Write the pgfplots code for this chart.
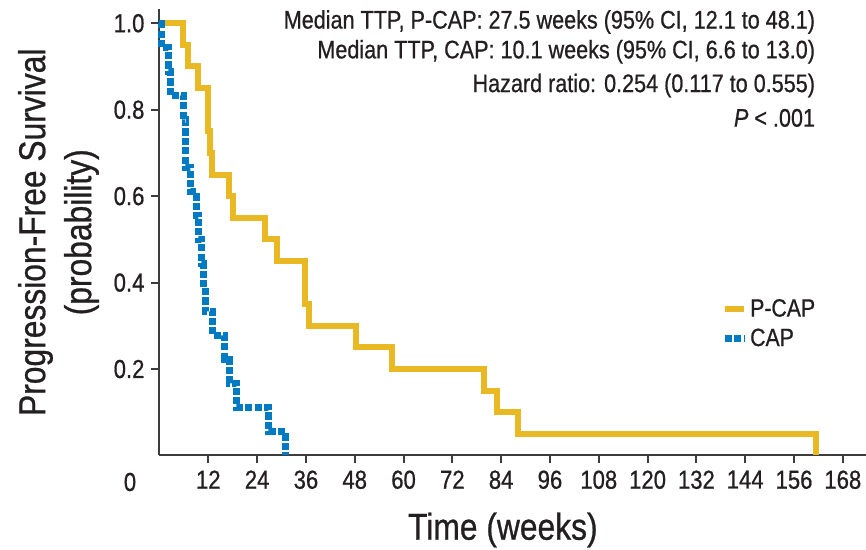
\documentclass[border=0pt]{standalone}
\usepackage{fontspec}
\setmainfont{Liberation Sans}[FakeStretch=0.85, FakeBold=0.7]
\setsansfont{Liberation Sans}[FakeStretch=0.85, FakeBold=0.7]
\usepackage{pgfplots}
\pgfplotsset{compat=1.18}
\usetikzlibrary{calc}

\definecolor{pcapgold}{RGB}{232,185,35}
\definecolor{capblue}{RGB}{0,122,195}
\definecolor{axisgray}{RGB}{60,60,60}
\definecolor{txt}{RGB}{35,31,32}

\begin{document}
\begin{tikzpicture}
\begin{axis}[
    name=ax,
    scale only axis,
    width=353.25pt, height=223.25pt,
    xmin=0, xmax=173.7, ymin=0, ymax=1.033,
    axis lines*=left,
    axis line style={axisgray, line width=1pt},
    tick align=outside,
    major tick length=4pt,
    tick style={axisgray, line width=1pt},
    xtick={12,24,36,48,60,72,84,96,108,120,132,144,156,168},
    xticklabels={12,24,36,48,60,72,84,96,108,120,132,144,156,168},
    ytick={0.2,0.4,0.6,0.8,1.0},
    yticklabels={0.2,0.4,0.6,0.8,1.0},
    tick label style={font=\fontsize{13}{15}\selectfont, text=txt},
    xlabel={Time (weeks)},
    ylabel={Progression-Free Survival\\(probability)},
    xlabel style={at={(rel axis cs:0.486,-0.1669)}, anchor=center,
                  font=\fontsize{18.7}{22.5}\selectfont, text=txt},
    ylabel style={at={(rel axis cs:-0.143,0.5)}, anchor=center, align=center,
                  font=\fontsize{18.7}{23}\selectfont, text=txt},
    clip=false,
    legend style={draw=none, fill=none, at={(axis cs:138.0,0.304)}, anchor=west,
                  inner sep=0pt, row sep=1.5pt, font=\fontsize{12.5}{14.5}\selectfont,
                  text=txt, nodes={inner sep=1.5pt}},
    legend cell align=left,
    legend image code/.code={\draw[#1] (0pt,0pt) -- (9.5pt,0pt);},
]
% P-CAP
\addplot[const plot, pcapgold, line width=3pt, line join=miter] coordinates {
    (0,1) (5.7,0.95) (6.9,0.90) (9.5,0.85) (12.0,0.75) (12.5,0.70) (13.0,0.65)
    (17.2,0.60) (18.0,0.55) (25.9,0.50) (28.8,0.45) (35.8,0.35) (36.8,0.30)
    (48.3,0.25) (57.1,0.20) (79.9,0.15) (82.9,0.10) (88.2,0.05) (161.4,0)
};
\addlegendentry{P-CAP}
% CAP
\addplot[const plot, capblue, line width=3.5pt, dash pattern=on 3.6pt off 1.1pt] coordinates {
    (0,1) (0.5,0.944) (2.2,0.889) (2.6,0.833) (6.0,0.778) (6.5,0.667)
    (7.7,0.611) (9.0,0.556) (9.7,0.5) (10.4,0.444) (10.8,0.389) (11.2,0.333)
    (13.1,0.278) (16.1,0.222) (17.2,0.167) (19.0,0.111) (26.8,0.056) (30.9,0)
};
\addlegendentry{CAP}

\node[anchor=east, font=\fontsize{12.7}{15}\selectfont, text=txt] at (axis cs:162.9,1.003)
    {Median TTP, P-CAP: 27.5 weeks (95\% CI, 12.1 to 48.1)};
\node[anchor=east, font=\fontsize{12.7}{15}\selectfont, text=txt] at (axis cs:162.9,0.934)
    {Median TTP, CAP: 10.1 weeks (95\% CI, 6.6 to 13.0)};
\node[anchor=east, font=\fontsize{12.7}{15}\selectfont, text=txt] at (axis cs:162.9,0.856)
    {Hazard ratio: 0.254 (0.117 to 0.555)};
\node[anchor=east, font=\fontsize{12.7}{15}\selectfont, text=txt] at (axis cs:162.9,0.781)
    {\textit{P} < .001};
\node[font=\fontsize{13}{15}\selectfont, text=txt, xshift=-14.75pt, yshift=-13.25pt]
    at (rel axis cs:0,0) {0};
\end{axis}
\pgfresetboundingbox
\path[use as bounding box] ($(ax.south west)+(-79.75pt,-47.25pt)$) rectangle ($(ax.north east)+(0pt,4.5pt)$);
\end{tikzpicture}
\end{document}
